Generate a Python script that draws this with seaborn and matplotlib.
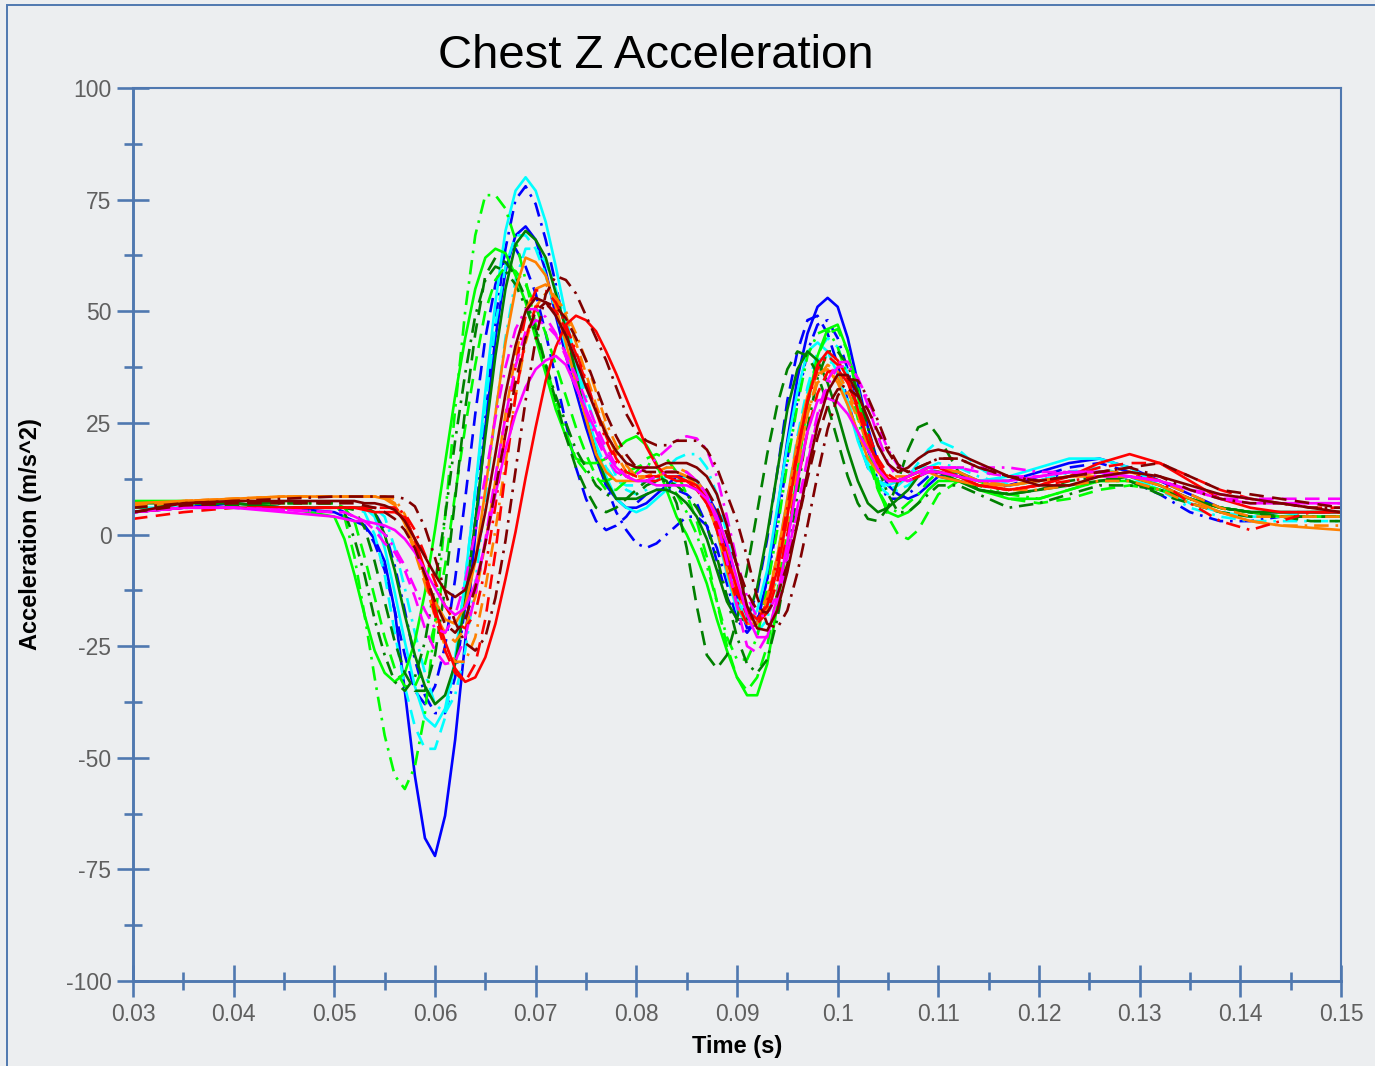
import numpy as np
import pandas as pd
import matplotlib
matplotlib.use('Agg')
import matplotlib.pyplot as plt
from matplotlib.patches import Rectangle
from matplotlib.ticker import MultipleLocator
import seaborn as sns

# sample times (ms)
time_ms = [30, 35, 40, 45,
           50, 51, 52, 53, 54, 55, 56, 57, 58, 59,
           60, 61, 62, 63, 64, 65, 66, 67, 68, 69,
           70, 71, 72, 73, 74, 75, 76, 77, 78, 79,
           80, 81, 82, 83, 84, 85, 86, 87, 88, 89,
           90, 91, 92, 93, 94, 95, 96, 97, 98, 99,
           100, 101, 102, 103, 104, 105, 106, 107, 108, 109,
           110,
           112, 114, 117, 120, 123, 126, 129, 132, 135, 138, 141, 144, 147, 150]

blue_solid = [5, 6, 7, 6,
              5, 4, 3, 2, -1, -6, -17, -35, -54, -68,
              -72, -63, -46, -24, 0, 24, 44, 59, 67, 69,
              66, 59, 49, 40, 32, 24, 17, 11, 8, 6,
              6, 7, 9, 11, 13, 13, 12, 9, 5, -3,
              -14, -21, -20, -10, 5, 21, 35, 45, 51, 53,
              51, 44, 34, 24, 16, 11, 9, 8, 9, 11,
              13,
              14, 12, 12, 14, 16, 17, 15, 12, 9, 6, 5, 5, 5, 5]

blue_dashed = [5, 6, 7, 6,
               6, 5, 4, 2, -2, -8, -17, -27, -35, -38,
               -34, -25, -10, 8, 27, 44, 56, 63, 64, 60,
               54, 45, 35, 25, 15, 8, 3, 1, 2, 4,
               7, 9, 10, 10, 10, 9, 7, 2, -6, -14,
               -19, -19, -13, -1, 14, 30, 41, 48, 49, 45,
               38, 30, 22, 15, 12, 11, 12, 13, 14, 14,
               13,
               12, 11, 11, 13, 15, 16, 14, 11, 8, 6, 5, 4, 4, 4]

blue_dashdot = [5, 6, 7, 6,
                6, 6, 6, 6, 5, 1, -7, -17, -28, -36,
                -40, -40, -32, -16, 3, 26, 48, 64, 75, 78,
                74, 66, 56, 45, 35, 26, 18, 11, 5, 1,
                -2, -3, -2, 0, 2, 4, 4, 2, -3, -11,
                -19, -22, -19, -10, 2, 17, 30, 41, 47, 48,
                44, 37, 28, 19, 12, 8, 8, 9, 11, 13,
                14,
                13, 12, 11, 12, 14, 14, 12, 9, 5, 3, 3, 4, 4, 4]

cyan_solid = [6, 6, 6, 6,
              6, 6, 6, 6, 4, -3, -13, -24, -34, -41,
              -43, -39, -28, -10, 10, 32, 52, 68, 77, 80,
              77, 70, 60, 49, 38, 28, 20, 13, 8, 6,
              5, 6, 8, 10, 12, 13, 12, 8, 1, -9,
              -17, -20, -17, -8, 6, 20, 32, 41, 43, 41,
              36, 29, 21, 15, 12, 11, 12, 13, 15, 15,
              14,
              13, 12, 13, 15, 17, 17, 15, 11, 7, 5, 4, 4, 4, 4]

cyan_dashed = [6, 6, 6, 6,
               6, 6, 6, 5, 0, -9, -22, -34, -43, -48,
               -48, -41, -28, -10, 10, 29, 47, 60, 67, 67,
               64, 58, 50, 42, 34, 26, 20, 15, 12, 11,
               11, 12, 12, 13, 13, 13, 12, 9, 3, -6,
               -14, -20, -20, -15, -5, 8, 22, 33, 41, 44,
               42, 36, 27, 19, 12, 10, 11, 13, 16, 19,
               21,
               19, 15, 11, 12, 14, 15, 13, 10, 7, 5, 4, 4, 5, 5]

cyan_dashdot = [6, 6, 6, 6,
                6, 6, 6, 6, 6, 4, -3, -12, -22, -31,
                -38, -40, -36, -26, -11, 8, 27, 44, 57, 64,
                64, 61, 55, 47, 39, 31, 24, 18, 13, 10,
                9, 10, 12, 15, 17, 18, 18, 15, 9, 0,
                -11, -19, -22, -19, -9, 5, 20, 32, 39, 40,
                36, 30, 23, 16, 11, 9, 10, 11, 13, 15,
                16,
                15, 13, 11, 12, 13, 14, 13, 10, 6, 4, 3, 3, 3, 3]

lime_solid = [7.5, 7.5, 7, 6,
              4, -1, -9, -18, -26, -31, -33, -31, -24, -13,
              1, 16, 31, 44, 55, 62, 64, 63, 58, 52,
              44, 36, 28, 22, 17, 16, 16, 17, 19, 21,
              22, 20, 16, 10, 4, 0, -5, -11, -19, -26,
              -32, -36, -36, -29, -16, -2, 14, 29, 40, 46,
              47, 41, 31, 20, 10, 5, 4, 5, 7, 10,
              12,
              12, 10, 8, 8, 10, 12, 12, 10, 8, 6, 5, 4, 4, 4]

lime_dashed = [7, 7, 7, 7,
               7, 6, 3, -5, -14, -23, -30, -34, -34, -29,
               -20, -7, 9, 24, 38, 50, 57, 60, 59, 56,
               51, 45, 38, 31, 24, 18, 13, 10, 10, 12,
               14, 17, 18, 17, 14, 9, 3, -5, -15, -25,
               -32, -35, -32, -25, -13, 2, 16, 30, 40, 45,
               46, 41, 33, 22, 12, 4, 0, -1, 1, 5,
               9,
               12, 11, 8, 7, 8, 10, 11, 10, 8, 6, 5, 4, 4, 4]

lime_dashdot = [7, 7, 7, 7,
                7, 4, -5, -18, -32, -45, -54, -57, -52, -40,
                -20, 4, 28, 50, 67, 76, 76, 73, 66, 57,
                47, 38, 30, 23, 17, 14, 12, 12, 13, 14,
                15, 16, 15, 13, 9, 5, 0, -7, -15, -23,
                -28, -28, -23, -12, 1, 16, 29, 40, 45, 46,
                42, 35, 26, 17, 10, 6, 5, 7, 9, 12,
                14,
                14, 12, 9, 8, 10, 12, 12, 10, 8, 6, 5, 5, 5, 5]

green_solid = [7, 7, 7, 6,
               6, 6, 6, 6, 5, 0, -8, -18, -27, -34,
               -38, -36, -29, -15, 3, 22, 40, 55, 65, 68,
               66, 62, 54, 46, 36, 26, 18, 12, 8, 8,
               8, 9, 10, 10, 9, 7, 4, -1, -8, -15,
               -19, -19, -12, 0, 14, 28, 37, 41, 39, 34,
               27, 19, 12, 7, 5, 6, 8, 10, 13, 14,
               14,
               12, 10, 9, 10, 11, 12, 13, 11, 8, 6, 5, 5, 5, 5]

green_dashed = [6, 6.5, 6.5, 6,
                6, 6, 5.5, 1.5, -6, -15, -24, -31, -35, -35,
                -27, -12, 8, 28, 45, 58, 62, 61, 58, 53,
                46, 38, 30, 22, 15, 10, 6, 5, 6, 8,
                10, 12, 13, 12, 7, -3, -16, -27, -30, -27,
                -19, -8, 5, 18, 29, 37, 41, 40, 36, 29,
                21, 13, 7, 3.5, 3, 6, 12, 19, 24, 25,
                22,
                14, 10, 9, 10, 12, 13, 12, 9, 7, 5, 4, 4, 3, 3]

green_dashdot = [7, 7, 7, 7,
                 7, 5, -1, -9, -19, -27, -33, -35, -32, -24,
                 -11, 4, 21, 36, 49, 57, 60, 59, 56, 51,
                 45, 38, 31, 25, 19, 15, 11, 9, 8, 8,
                 9, 11, 12, 12, 11, 9, 6, 2, -5, -14,
                 -23, -29, -31, -28, -19, -6, 9, 24, 35, 41,
                 41, 38, 32, 24, 15, 9, 5, 5, 7, 9,
                 11,
                 11, 9, 6, 7, 9, 11, 11, 10, 8, 6, 5, 4, 4, 4]

orange_solid = [7, 7.5, 8, 8.5,
                8.5, 8.5, 8.5, 8.5, 8.5, 8, 6.6, 2.7, -3, -9,
                -15, -19, -20, -16, -6, 10, 27, 43, 55, 62,
                61, 58, 51, 43, 34, 26, 18, 14, 12, 12,
                12, 13, 13, 14, 14, 13, 11, 7, 1, -8,
                -16, -20, -20, -15, -5, 8, 21, 31, 36, 37,
                34, 29, 23, 17, 14, 12, 12, 13, 14, 14,
                13,
                12, 11, 11, 12, 13, 13, 13, 11, 8, 5, 3, 2, 1.5, 1]

orange_dashed = [6, 7.5, 8, 8.5,
                 8.5, 8.5, 8.5, 8.5, 8.5, 8.5, 7, 2.4, -4, -11,
                 -18, -22, -24, -21, -14, -2, 12, 27, 40, 50,
                 55, 56, 53, 49, 43, 36, 29, 23, 18, 14,
                 13, 13, 14, 15, 15, 14, 12, 9, 4, -4,
                 -12, -18, -20, -17, -9, 2.5, 15, 27, 35, 38,
                 36.5, 32, 27, 20, 15, 12, 12, 13, 14, 15,
                 15,
                 14, 12, 11, 12, 13, 14, 14, 12, 9, 6, 4, 4, 4, 4]

orange_dashdot = [6.5, 7.5, 8, 8.5,
                  8.5, 8.5, 8.5, 8.5, 8.5, 8.5, 8, 4.5, -2, -10,
                  -18.5, -25, -28.5, -28.5, -23, -12, 1, 16, 31, 43,
                  51, 54, 53, 50, 45, 39, 32, 25, 20, 15.5,
                  13, 13, 13, 14, 14, 13, 11, 8, 2, -6,
                  -13, -18, -18.5, -14, -5, 5.6, 17, 27, 34, 36,
                  35, 31, 26, 20, 16, 13, 13, 13, 14, 15,
                  15,
                  14, 12, 10, 10, 11, 12, 12, 10, 7, 5, 3, 2, 2, 2]

red_solid = [5, 6, 6, 6,
             6, 6, 6, 5.5, 5, 5, 5, 3.8, -1, -8,
             -16.5, -24, -30, -33, -32, -27.5, -20, -10, 0.6, 12.7,
             24, 34.5, 42, 47, 49, 48, 45.5, 41, 36, 30.5,
             25, 19.6, 15.5, 13, 12, 12, 11, 8, 3, -5,
             -12, -17, -19, -16, -8, 4, 18, 30, 38, 41,
             39, 35, 28, 21, 16, 12.5, 12, 13, 14, 15,
             15,
             13, 11, 10, 11, 13, 16, 18, 16, 12, 8, 6, 5, 5, 5]

red_dashed = [3.5, 5, 6, 6,
              6, 6, 6, 6, 6, 6, 6, 4, -1, -9,
              -18, -26, -31, -33, -29, -19, -4, 14, 31, 44,
              51, 51.5, 50, 46, 40.5, 34, 28, 22, 17, 14,
              13, 13, 13, 13, 13, 12, 10, 7, 2, -6,
              -13, -18, -20, -17.5, -10.6, 0, 11.5, 23, 31.6, 36.4,
              37, 34, 29, 23, 17, 13.5, 12, 12, 13, 14,
              14,
              13, 11, 10, 11, 13, 15, 16, 16, 13, 10, 8, 7, 6, 6]

red_dashdot = [5, 6, 6, 6,
               6, 6, 6, 6, 6, 6, 6, 4.7, 1, -4.5,
               -10.5, -16, -19.7, -21, -17.6, -7.7, 6.4, 22.7, 37.5, 49,
               54.7, 54.5, 52, 47, 41, 34.5, 27.6, 21, 16, 13,
               12, 12, 12, 13, 13, 12, 10, 7, 1, -7,
               -15, -20, -20.5, -15, -6, 6, 19, 29.6, 37, 40,
               38, 34, 28, 21, 15.5, 12.4, 12, 12, 13, 14,
               14,
               13, 11, 10, 11, 12, 13, 14, 12, 7, 3, 1, 3, 5, 5]

magenta_solid = [5, 6, 6, 5,
                 4, 3.5, 3, 3, 2.5, 2, 1, -1, -4, -8,
                 -12, -16, -18, -16.5, -11, -2, 9, 19, 27, 33,
                 37, 39, 40, 38, 33, 28, 23, 18, 15, 13,
                 12, 12, 11, 11, 11, 11, 10, 8, 4, -2,
                 -10, -18, -23, -23, -14, -2, 12, 23, 30, 30.5,
                 29.6, 27, 23, 19, 14.6, 12, 12, 13, 14, 14,
                 14,
                 13, 12, 12, 13, 14, 14, 13, 12, 10, 8, 7, 7, 7, 7]

magenta_dashed = [5, 6, 6, 5.5,
                  5, 5, 4, 3, 1, -2, -4, -8, -14, -21,
                  -26, -29, -28.5, -23, -13.6, -1.3, 13, 26.4, 37.7, 45.4,
                  48, 47, 44.6, 40.6, 35.6, 30, 24.4, 19.4, 15.4, 13,
                  12, 12, 13, 14, 14, 14, 12, 9, 3, -6,
                  -16, -25, -26.5, -22.6, -15.3, -5.2, 6, 17, 27, 34.6,
                  38.5, 38.7, 35, 29, 22, 16, 12.5, 12, 13, 14,
                  15,
                  15, 14, 13, 13, 14, 14, 13, 12, 10, 9, 8, 8, 8, 8]

magenta_dashdot = [5, 6, 6, 5.5,
                   5, 5, 4, 3, 2, 0, -3, -7, -12, -17,
                   -21, -22, -18, -10.5, 0.6, 13, 26, 37.5, 46, 50.4,
                   50.5, 48.7, 45, 39.8, 33.6, 27.3, 21.7, 17, 14, 13,
                   13.5, 15, 17, 19, 21, 22, 21.5, 19, 13, 4,
                   -6, -14, -18.5, -18, -13.3, -4.7, 5, 16, 26, 33.4,
                   37.5, 37.8, 35, 30.3, 24.6, 19, 15.4, 14, 14, 15,
                   15,
                   15, 15, 15, 14, 14, 13, 13, 12, 10, 8, 8, 7, 7, 7]

maroon_solid = [5, 7, 7.5, 7.5,
                7.5, 7.5, 7.5, 7, 7, 6.5, 5.5, 3, -1, -5,
                -9, -12.5, -14, -12.4, -5.7, 5, 18, 31.5, 42.3, 50,
                53, 52, 49, 44.5, 39, 33, 27.5, 22.5, 18.7, 16,
                15, 15, 15, 16, 16, 16, 15, 13, 9, 2,
                -7, -16, -21, -21.5, -17, -8.4, 2.4, 14, 24.4, 32,
                35.8, 35.7, 31.5, 26, 20, 15.8, 14, 15, 17, 18.5,
                19,
                18, 16, 13, 11, 11, 13, 14, 13, 11, 9, 8, 7, 6, 5]

maroon_dashed = [5, 6.5, 7, 7,
                 7, 7, 7, 6.5, 6, 5, 3.5, 1, -3, -9,
                 -15, -20, -22, -19, -12, -2, 10, 22.4, 34, 44,
                 50, 52, 51, 48.4, 44, 39, 33, 27, 22, 17.9,
                 15, 14, 14, 14, 14, 13, 12, 10, 6, 0,
                 -7, -13, -17, -17.5, -13.7, -6.7, 2.4, 12.5, 21.7, 28.7,
                 32.5, 32.7, 31, 28, 23, 18.6, 15, 14, 15, 16,
                 17,
                 17, 15, 13, 12, 13, 14, 15, 16, 13, 10, 9, 8, 7, 6]

maroon_dashdot = [6, 7, 7.5, 8,
                  8.5, 8.5, 8.5, 8.5, 8.5, 8.5, 8.5, 8, 6.3, 1.6,
                  -5.2, -12.8, -19.6, -24.3, -26, -23, -14.2, -1.4, 14.3, 30,
                  43.7, 53.8, 57.9, 57, 54, 49, 44, 39, 33, 27,
                  23, 21, 20, 20, 21, 21, 21, 19, 15, 9,
                  3, -5, -14, -20, -21, -17, -8.6, 2, 13.3, 23.6,
                  31, 34.8, 34.5, 30.7, 25.5, 19.7, 15.7, 14, 15, 16,
                  17,
                  17, 15, 13, 12, 13, 14, 15, 13, 10, 8, 7, 7, 6, 6]

x_ticks = [0.03, 0.04, 0.05, 0.06, 0.07, 0.08, 0.09, 0.1, 0.11, 0.12, 0.13, 0.14, 0.15]
x_tick_labels = ['0.03', '0.04', '0.05', '0.06', '0.07', '0.08', '0.09', '0.1',
                 '0.11', '0.12', '0.13', '0.14', '0.15']
y_ticks = [-100, -75, -50, -25, 0, 25, 50, 75, 100]
y_tick_labels = ['-100', '-75', '-50', '-25', '0', '25', '50', '75', '100']

runs = [
    ('blue_solid', blue_solid, '#0000ff', 'solid'),
    ('blue_dashed', blue_dashed, '#0000ff', 'dashed'),
    ('blue_dashdot', blue_dashdot, '#0000ff', 'dashdot'),
    ('cyan_solid', cyan_solid, '#00ffff', 'solid'),
    ('cyan_dashed', cyan_dashed, '#00ffff', 'dashed'),
    ('cyan_dashdot', cyan_dashdot, '#00ffff', 'dashdot'),
    ('lime_solid', lime_solid, '#00ff00', 'solid'),
    ('lime_dashed', lime_dashed, '#00ff00', 'dashed'),
    ('lime_dashdot', lime_dashdot, '#00ff00', 'dashdot'),
    ('green_solid', green_solid, '#008000', 'solid'),
    ('green_dashed', green_dashed, '#008000', 'dashed'),
    ('green_dashdot', green_dashdot, '#008000', 'dashdot'),
    ('orange_solid', orange_solid, '#ff8000', 'solid'),
    ('orange_dashed', orange_dashed, '#ff8000', 'dashed'),
    ('orange_dashdot', orange_dashdot, '#ff8000', 'dashdot'),
    ('red_solid', red_solid, '#ff0000', 'solid'),
    ('red_dashed', red_dashed, '#ff0000', 'dashed'),
    ('red_dashdot', red_dashdot, '#ff0000', 'dashdot'),
    ('magenta_solid', magenta_solid, '#ff00ff', 'solid'),
    ('magenta_dashed', magenta_dashed, '#ff00ff', 'dashed'),
    ('magenta_dashdot', magenta_dashdot, '#ff00ff', 'dashdot'),
    ('maroon_solid', maroon_solid, '#800000', 'solid'),
    ('maroon_dashed', maroon_dashed, '#800000', 'dashed'),
    ('maroon_dashdot', maroon_dashdot, '#800000', 'dashdot'),
]

bg = '#eceef0'
axis_blue = '#4f78b0'
# dash lengths are in multiples of the line width
dash_styles = {'solid': '', 'dashed': (5.5, 3.2), 'dashdot': (5.5, 2.6, 1.0, 2.6)}

frames = []
for name, vals, color, style in runs:
    frames.append(pd.DataFrame({'time': np.array(time_ms) / 1000.0,
                                'accel': vals, 'run': name}))
df = pd.concat(frames, ignore_index=True)
palette = {name: color for name, _, color, _ in runs}
dashes = {name: dash_styles[style] for name, _, _, style in runs}

sns.set_theme(style='ticks')
plt.rcParams['font.family'] = ['Liberation Sans', 'DejaVu Sans']

fig = plt.figure(figsize=(13.75, 10.66), dpi=100, facecolor=bg)
ax = fig.add_axes([133 / 1375, 1 - 981 / 1066, (1341 - 133) / 1375, (981 - 88) / 1066])
ax.set_facecolor(bg)

sns.lineplot(data=df, x='time', y='accel', hue='run', style='run',
             palette=palette, dashes=dashes, linewidth=1.9,
             estimator=None, sort=False, legend=False, ax=ax)

ax.set_xlim(0.03, 0.15)
ax.set_ylim(-100, 100)
ax.set_xticks(x_ticks)
ax.set_xticklabels(x_tick_labels)
ax.set_yticks(y_ticks)
ax.set_yticklabels(y_tick_labels)
ax.xaxis.set_minor_locator(MultipleLocator(0.005))
ax.yaxis.set_minor_locator(MultipleLocator(12.5))
ax.set_xlabel('')
ax.set_ylabel('')

for side in ['left', 'bottom']:
    ax.spines[side].set_color(axis_blue)
    ax.spines[side].set_linewidth(2.1)
for side in ['top', 'right']:
    ax.spines[side].set_visible(True)
    ax.spines[side].set_color(axis_blue)
    ax.spines[side].set_linewidth(1.5)

ax.tick_params(which='major', direction='inout', length=23, width=1.9,
               color=axis_blue, labelcolor='#5f5f5f', labelsize=16.5, pad=4)
ax.tick_params(which='minor', direction='inout', length=13, width=1.9,
               color=axis_blue)

fig.text(656 / 1375, 1 - 68 / 1066, 'Chest Z Acceleration', ha='center',
         va='baseline', fontsize=34, color='black')
fig.text(737 / 1375, 1 - 1046 / 1066, 'Time (s)', ha='center', va='center',
         fontsize=17, fontweight='bold', color='black')
fig.text(30 / 1375, 1 - 534 / 1066, 'Acceleration (m/s^2)', ha='center',
         va='center', rotation=90, fontsize=17, fontweight='bold', color='black')

frame = Rectangle((7 / 1375, -0.1), 1.2, 1.1 - 5 / 1066, transform=fig.transFigure,
                  fill=False, edgecolor=axis_blue, linewidth=1.4)
fig.patches.append(frame)

fig.savefig('out.png', dpi=100, facecolor=bg)
